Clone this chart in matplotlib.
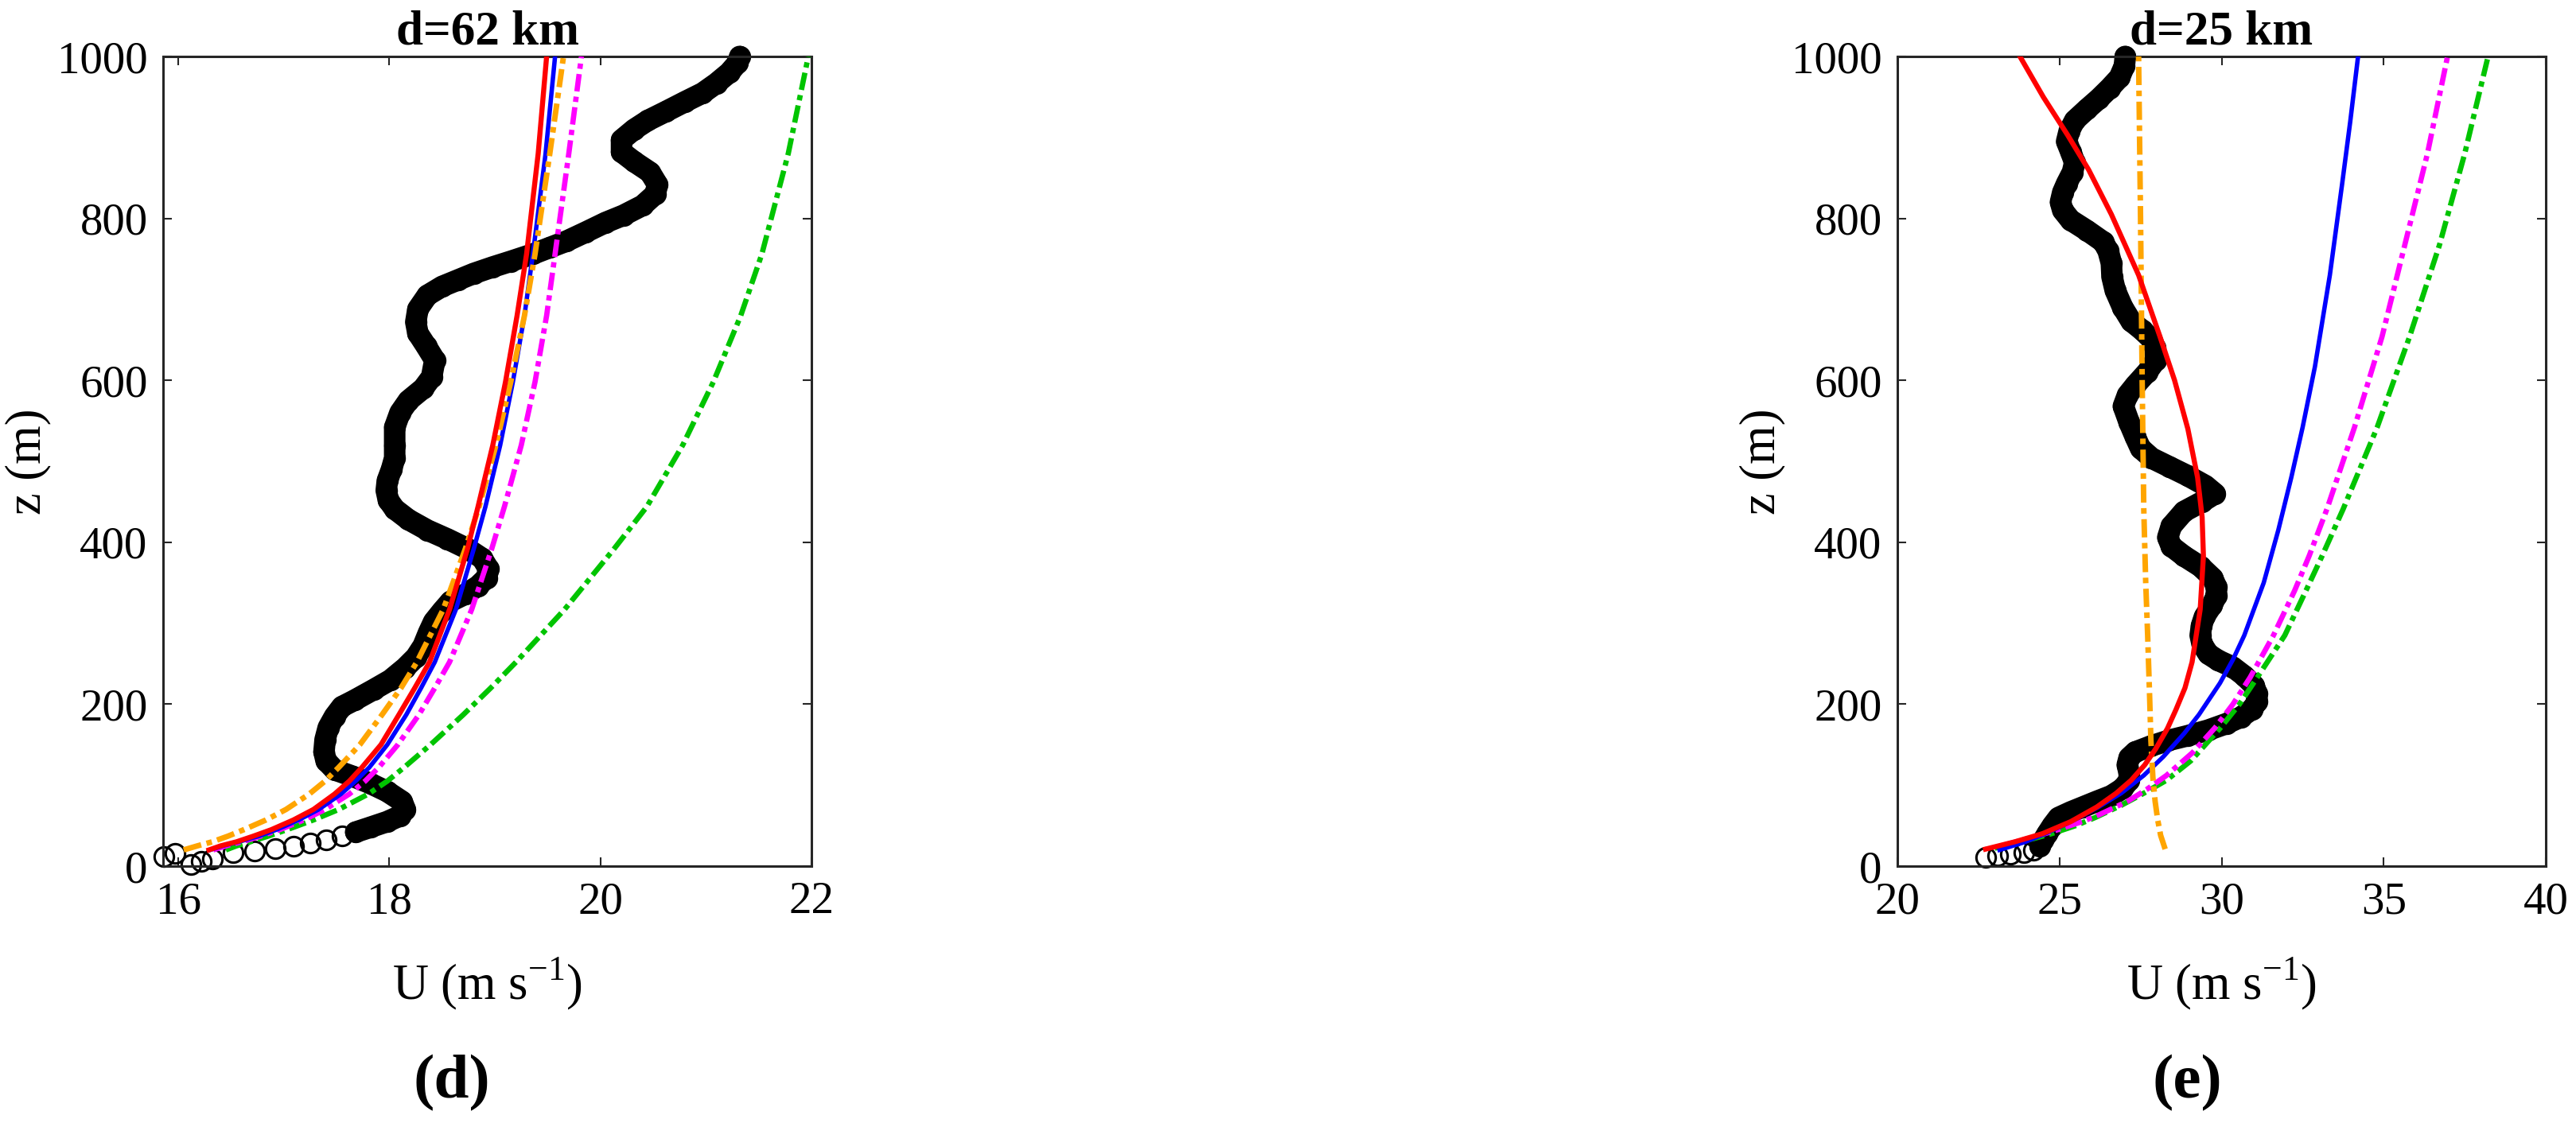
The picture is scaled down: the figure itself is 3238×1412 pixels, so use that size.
import matplotlib
matplotlib.use('Agg')
from matplotlib import pyplot as plt

plt.rcParams['font.family'] = ['Liberation Serif', 'DejaVu Serif']
plt.rcParams['mathtext.fontset'] = 'custom'
plt.rcParams['mathtext.rm'] = 'Liberation Serif'

# ---- panel (d): d=62 km ----
obs_d_u = [16.12, 16.22, 16.32, 15.86, 15.97, 16.52, 16.72, 16.92, 17.09, 17.25,
           17.40, 17.55, 17.68, 17.82, 17.98, 18.10, 18.15, 18.12, 17.98, 17.82,
           17.65, 17.48, 17.40, 17.38, 17.39, 17.42, 17.48, 17.55, 17.67, 17.85,
           18.01, 18.15, 18.25, 18.32, 18.37, 18.42, 18.50, 18.58, 18.72, 18.84,
           18.92, 18.94, 18.88, 18.74, 18.55, 18.36, 18.18, 18.05, 17.99, 17.97,
           17.98, 18.02, 18.05, 18.05, 18.05, 18.10, 18.18, 18.32, 18.40, 18.43,
           18.35, 18.27, 18.25, 18.27, 18.36, 18.50, 18.65, 18.80, 18.98, 19.15,
           19.36, 19.52, 19.68, 19.86, 20.05, 20.22, 20.40, 20.52, 20.54, 20.47,
           20.32, 20.20, 20.20, 20.32, 20.45, 20.62, 20.80, 20.97, 21.10, 21.22,
           21.30, 21.32]
obs_d_z = [2, 6, 9, 12, 16, 17, 19, 22, 25, 28,
           32, 37, 42, 48, 55, 62, 70, 80, 92, 102,
           111, 119, 130, 141, 156, 171, 185, 197, 205, 218,
           230, 245, 258, 272, 288, 302, 315, 327, 336, 346,
           356, 367, 380, 392, 404, 415, 428, 441, 452, 464,
           476, 490, 504, 520, 542, 560, 575, 590, 604, 625,
           642, 658, 672, 688, 705, 716, 724, 732, 740, 747,
           756, 764, 772, 783, 795, 804, 816, 830, 842, 857,
           870, 882, 897, 910, 921, 932, 944, 955, 967, 980,
           992, 1000]

fit_d_z = [20, 25, 30, 37, 45, 57, 70, 89, 105, 122, 150, 187, 220, 252,
           317, 392, 444, 520, 598, 680, 756, 880, 1000]
red_d = [16.29, 16.40, 16.55, 16.71, 16.88, 17.09, 17.28, 17.48, 17.62, 17.74,
         17.92, 18.09, 18.24, 18.38, 18.57, 18.74, 18.84, 18.98, 19.10, 19.21,
         19.30, 19.41, 19.49]
blue_d = [16.30, 16.42, 16.57, 16.76, 16.93, 17.14, 17.33, 17.54, 17.68, 17.81,
          17.98, 18.16, 18.30, 18.43, 18.63, 18.80, 18.91, 19.05, 19.17, 19.28,
          19.36, 19.48, 19.57]
orange_d = [16.05, 16.18, 16.32, 16.47, 16.62, 16.83, 17.02, 17.24, 17.39, 17.52,
            17.72, 17.93, 18.11, 18.26, 18.51, 18.72, 18.85, 19.01, 19.15, 19.28,
            19.38, 19.52, 19.65]
magenta_d = [16.33, 16.45, 16.60, 16.78, 16.96, 17.19, 17.39, 17.62, 17.77, 17.90,
             18.08, 18.28, 18.43, 18.57, 18.78, 18.97, 19.09, 19.25, 19.38, 19.49,
             19.57, 19.70, 19.82]
green_d = [16.45, 16.55, 16.68, 16.85, 17.03, 17.28, 17.52, 17.80, 17.98, 18.14,
           18.39, 18.70, 18.96, 19.20, 19.66, 20.13, 20.44, 20.78, 21.07, 21.33,
           21.53, 21.78, 21.97]

# ---- panel (e): d=25 km ----
obs_e_u = [22.72, 23.10, 23.48, 23.90, 24.20, 24.40, 24.50, 24.62, 24.78, 24.97,
           25.35, 25.72, 26.15, 26.60, 26.95, 27.15, 27.15, 27.09, 27.15, 27.34,
           27.80, 28.34, 28.95, 29.59, 30.15, 30.59, 30.95, 31.09, 31.09, 31.00,
           30.70, 30.34, 29.90, 29.59, 29.40, 29.34, 29.38, 29.47, 29.70, 29.84,
           29.84, 29.72, 29.35, 28.84, 28.45, 28.34, 28.45, 28.84, 29.40, 29.80,
           29.50, 28.96, 28.40, 27.84, 27.50, 27.34, 27.15, 26.97, 27.10, 27.34,
           27.70, 27.97, 27.95, 27.84, 27.55, 27.21, 26.95, 26.72, 26.62, 26.60,
           26.50, 26.35, 25.85, 25.34, 25.10, 25.03, 25.10, 25.22, 25.40, 25.47,
           25.35, 25.22, 25.30, 25.47, 25.85, 26.22, 26.55, 26.85, 27.00, 27.03]
obs_e_z = [11, 13, 15, 17, 20, 25, 32, 40, 50, 60,
           67, 73, 80, 87, 96, 106, 115, 125, 134, 141,
           148, 155, 161, 168, 176, 184, 194, 203, 213, 223,
           235, 246, 254, 262, 274, 285, 297, 308, 322, 334,
           345, 356, 370, 383, 395, 406, 420, 438, 450, 460,
           470, 482, 493, 504, 516, 530, 548, 568, 582, 594,
           610, 625, 640, 651, 662, 673, 690, 711, 728, 745,
           760, 771, 785, 798, 810, 820, 832, 843, 857, 869,
           882, 895, 908, 921, 935, 948, 961, 974, 988, 1000]

red_e_z = [21, 30, 40, 55, 73, 90, 106, 125, 145, 170, 193, 220, 252, 317, 383,
           431, 480, 540, 600, 654, 730, 805, 860, 903, 950, 1000]
red_e = [22.72, 23.62, 24.47, 25.35, 26.15, 26.75, 27.21, 27.63, 27.97, 28.33,
         28.59, 28.87, 29.09, 29.34, 29.44, 29.40, 29.26, 28.96, 28.55, 28.10,
         27.44, 26.60, 25.90, 25.25, 24.50, 23.78]
blue_e_z = [20, 30, 40, 50, 60, 73, 90, 112, 135, 164, 187, 226, 255, 285, 350,
            415, 480, 542, 617, 730, 843, 920, 1000]
blue_e = [23.15, 23.95, 24.55, 25.10, 25.60, 26.20, 26.90, 27.60, 28.20, 28.85,
          29.30, 29.95, 30.35, 30.70, 31.30, 31.75, 32.15, 32.50, 32.88, 33.34,
          33.72, 33.97, 34.21]
magenta_e_z = [25, 30, 37, 45, 55, 63, 80, 95, 112, 140, 171, 200, 233, 285, 340,
               383, 441, 542, 654, 767, 880, 1000]
magenta_e = [23.20, 23.65, 24.30, 24.95, 25.70, 26.20, 27.10, 27.70, 28.30, 29.10,
             29.80, 30.35, 30.88, 31.60, 32.25, 32.70, 33.25, 34.10, 34.95, 35.65,
             36.35, 36.97]
green_e_z = [22, 25, 30, 34, 40, 50, 60, 75, 90, 106, 130, 171, 200, 233, 285,
             340, 383, 441, 542, 654, 767, 880, 1000]
green_e = [23.00, 23.25, 23.75, 24.20, 24.75, 25.50, 26.10, 26.90, 27.60, 28.30,
           29.05, 29.97, 30.55, 31.10, 31.95, 32.60, 33.10, 33.75, 34.80, 35.80,
           36.72, 37.50, 38.22]
orange_e_z = [21, 38, 57, 80, 110, 155, 210, 285, 350, 441, 600, 800, 1000]
orange_e = [28.26, 28.12, 28.03, 27.95, 27.88, 27.82, 27.78, 27.72, 27.66, 27.60,
            27.55, 27.50, 27.44]

W, H = 3238, 1412
AX = '#262626'
DASHDOT = (3.3, 1.0, 1.0, 1.0)


def draw_panel(ax, obs_u, obs_z, band_from, fits, xlim, xticks, title):
    # observations: thick band through the dense circles, then the circles
    bu = [u for u, z in zip(obs_u, obs_z) if z >= band_from]
    bz = [z for z in obs_z if z >= band_from]
    ax.plot(bu, bz, color='k', lw=19.5, solid_joinstyle='round',
            solid_capstyle='round', clip_on=False, zorder=2)
    ax.plot(obs_u, obs_z, 'o', mfc='none', mec='k', ms=17.5, mew=2.2,
            clip_on=False, zorder=2)

    for u, z, color, dashed, lw in fits:
        if dashed:
            ax.plot(u, z, color=color, lw=lw, dashes=DASHDOT, zorder=3)
        else:
            ax.plot(u, z, color=color, lw=lw, zorder=3)

    ax.set_xlim(*xlim)
    ax.set_ylim(0, 1000)
    ax.set_xticks(xticks)
    ax.set_yticks(range(0, 1001, 200))
    ax.tick_params(direction='in', length=8, width=1.5, top=True, right=True,
                   labelsize=41, pad=14, color=AX)
    for s in ax.spines.values():
        s.set_linewidth(2.2)
        s.set_color(AX)

    ax.set_title(title, fontsize=44, fontweight='bold', pad=11)
    ax.set_xlabel('U (m s$^{-1}$)', fontsize=45, va='center')
    ax.set_ylabel('z (m)', fontsize=45, va='center')
    ax.xaxis.set_label_coords(0.5, -0.1454)
    ax.yaxis.set_label_coords(-0.2086, 0.5)


fig = plt.figure(figsize=(W / 100, H / 100), dpi=100)
ax_d = fig.add_axes([205 / W, 1 - 1089 / H, 815 / W, 1018 / H])
ax_e = fig.add_axes([2385 / W, 1 - 1089 / H, 815 / W, 1018 / H])

fits_d = [
    (green_d, fit_d_z, '#00C400', True, 4.8),
    (magenta_d, fit_d_z, '#FF00FF', True, 4.8),
    (blue_d, fit_d_z, '#0000FF', False, 4.0),
    (orange_d, fit_d_z, '#FFA500', True, 5.0),
    (red_d, fit_d_z, '#FF0000', False, 4.6),
]
fits_e = [
    (green_e, green_e_z, '#00C400', True, 4.8),
    (magenta_e, magenta_e_z, '#FF00FF', True, 4.8),
    (blue_e, blue_e_z, '#0000FF', False, 4.0),
    (orange_e, orange_e_z, '#FFA500', True, 5.0),
    (red_e, red_e_z, '#FF0000', False, 4.6),
]

draw_panel(ax_d, obs_d_u, obs_d_z, 40, fits_d, (15.855, 22), [16, 18, 20, 22], 'd=62 km')
draw_panel(ax_e, obs_e_u, obs_e_z, 22, fits_e, (20, 40), [20, 25, 30, 35, 40], 'd=25 km')

fig.text(568 / W, 1 - 1362 / H, '(d)', ha='center', va='center',
         fontsize=57, fontweight='bold')
fig.text(2749 / W, 1 - 1362 / H, '(e)', ha='center', va='center',
         fontsize=57, fontweight='bold')

fig.savefig('out.png', dpi=100)
